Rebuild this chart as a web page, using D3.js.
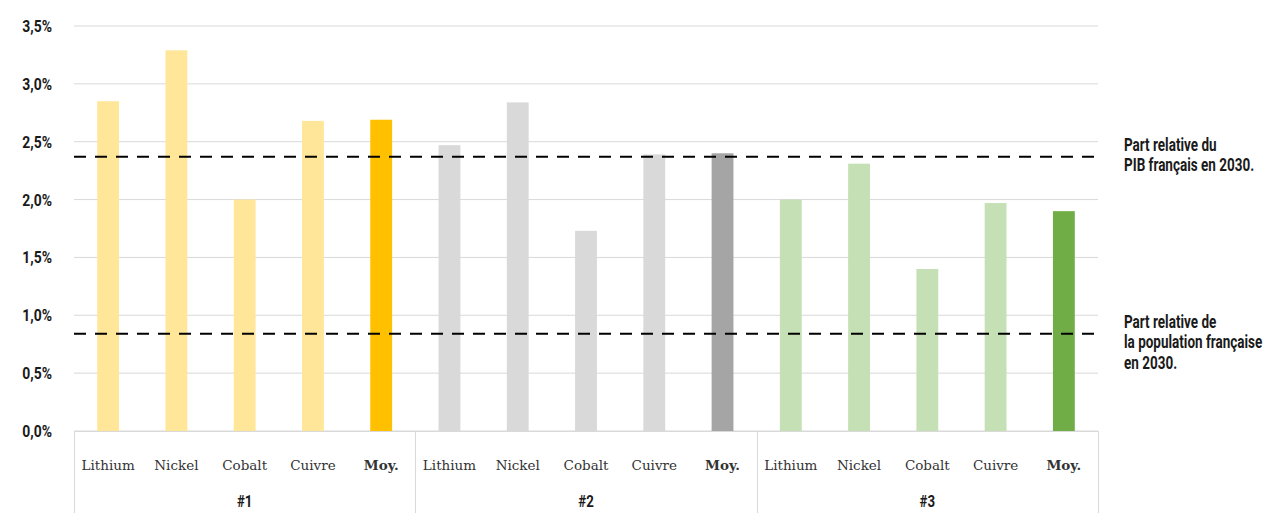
<!DOCTYPE html>
<html>
<head>
<meta charset="utf-8">
<script src="https://cdn.jsdelivr.net/npm/d3@7"></script>
<style>
  html, body { margin: 0; padding: 0; background: #fff; }
  svg { display: block; }
  .cond { font-family: Roboto, "DejaVu Sans Condensed", sans-serif; font-weight: bold; fill: #1a1a1a; }
  .cat { font-family: Georgia, "DejaVu Serif", "Liberation Serif", serif; fill: #333; }
</style>
</head>
<body>
<svg id="chart" width="1265" height="513"></svg>
<script>
// Metals and scenarios
const metals = ["Lithium", "Nickel", "Cobalt", "Cuivre", "Moy."];
const groups = ["#1", "#2", "#3"];

// Share (%) per metal for each scenario, last entry is the average
const values1 = [2.85, 3.29, 2.00, 2.68, 2.69];
const values2 = [2.47, 2.84, 1.73, 2.39, 2.40];
const values3 = [2.00, 2.31, 1.40, 1.97, 1.90];

// Bar colours per scenario: [metal colour, average colour]
const colors1 = ["#FFE699", "#FFC000"];
const colors2 = ["#D9D9D9", "#A5A5A5"];
const colors3 = ["#C5E0B4", "#70AD47"];

// Y ticks
const yTicks = [0, 0.5, 1.0, 1.5, 2.0, 2.5, 3.0, 3.5];

// Reference levels (dashed lines) with their labels
const refValues = [2.37, 0.84];
const refLabels = [
  ["Part relative du", "PIB français en 2030."],
  ["Part relative de", "la population française", "en 2030."]
];

const seriesValues = [values1, values2, values3];
const seriesColors = [colors1, colors2, colors3];

const rows = [];
groups.forEach((g, gi) => {
  metals.forEach((m, mi) => {
    rows.push({
      key: g + "|" + m,
      group: g,
      metal: m,
      value: seriesValues[gi][mi],
      color: mi === metals.length - 1 ? seriesColors[gi][1] : seriesColors[gi][0]
    });
  });
});

const svg = d3.select("#chart");
const plotLeft = 74, plotRight = 1098, plotTop = 26, plotBottom = 431;

const x = d3.scaleBand()
  .domain(rows.map(d => d.key))
  .range([plotLeft, plotRight])
  .paddingInner(0.68)
  .paddingOuter(0.34);

const y = d3.scaleLinear().domain([0, 3.5]).range([plotBottom, plotTop]);

// Narrow display text: a bold sans squeezed horizontally
function narrowText(parent, px, py, size, sx, anchor) {
  return parent.append("text")
    .attr("class", "cond")
    .attr("transform", `translate(${px},${py}) scale(${sx},1)`)
    .attr("font-size", size)
    .attr("text-anchor", anchor);
}

// Gridlines
svg.append("g")
  .selectAll("line")
  .data(yTicks)
  .join("line")
  .attr("x1", plotLeft).attr("x2", plotRight)
  .attr("y1", d => y(d)).attr("y2", d => y(d))
  .attr("stroke", "#d9d9d9")
  .attr("stroke-width", 1);

// Y axis labels
const fmt = d => d.toFixed(1).replace(".", ",") + "%";
const yLab = svg.append("g");
yTicks.forEach(t => {
  narrowText(yLab, 52, y(t) + 6, 17, 0.82, "end").text(fmt(t));
});

// Bars
svg.append("g")
  .selectAll("rect")
  .data(rows)
  .join("rect")
  .attr("x", d => x(d.key))
  .attr("width", x.bandwidth())
  .attr("y", d => y(d.value))
  .attr("height", d => y(0) - y(d.value))
  .attr("fill", d => d.color);

// Category axis frame
const groupWidth = (plotRight - plotLeft) / groups.length;
const frame = svg.append("g").attr("stroke", "#d9d9d9").attr("stroke-width", 1);
frame.append("line").attr("x1", plotLeft).attr("x2", plotRight).attr("y1", plotBottom + 0.5).attr("y2", plotBottom + 0.5);
d3.range(groups.length + 1).forEach(i => {
  const gx = Math.round(plotLeft + i * groupWidth) + 0.5;
  frame.append("line").attr("x1", gx).attr("x2", gx).attr("y1", plotBottom).attr("y2", 513);
});

// Metal labels
svg.append("g")
  .selectAll("text")
  .data(rows)
  .join("text")
  .attr("class", "cat")
  .attr("x", d => x(d.key) + x.bandwidth() / 2)
  .attr("y", 470)
  .attr("text-anchor", "middle")
  .attr("font-size", 13.5)
  .attr("font-weight", d => d.metal === "Moy." ? "bold" : "normal")
  .text(d => d.metal);

// Scenario labels
const gLab = svg.append("g");
groups.forEach((g, i) => {
  narrowText(gLab, plotLeft + (i + 0.5) * groupWidth, 507, 17, 0.78, "middle").text(g);
});

// Reference dashed lines
svg.append("g")
  .selectAll("line")
  .data(refValues)
  .join("line")
  .attr("x1", plotLeft).attr("x2", plotRight + 2)
  .attr("y1", d => y(d)).attr("y2", d => y(d))
  .attr("stroke", "#000")
  .attr("stroke-width", 2)
  .attr("stroke-dasharray", "12,9");

// Reference annotations
const annot = svg.append("g");
refLabels.forEach((lines, i) => {
  const t = narrowText(annot, 1124, y(refValues[i]) - 6, 18, 0.75, "start");
  lines.forEach((ln, j) => {
    t.append("tspan").attr("x", 0).attr("dy", j === 0 ? 0 : 20.5).text(ln);
  });
});
</script>
</body>
</html>
